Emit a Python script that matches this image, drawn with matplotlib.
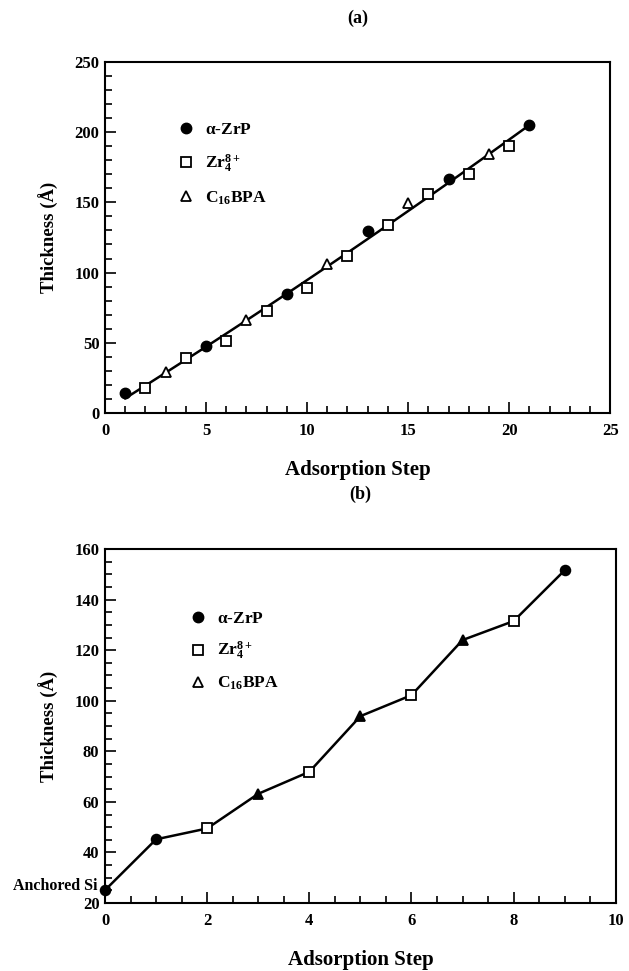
import numpy as np
import matplotlib
matplotlib.use("Agg")
import matplotlib.pyplot as plt
from matplotlib.ticker import MultipleLocator
from matplotlib.lines import Line2D

plt.rcParams['font.family'] = ['Liberation Serif', 'DejaVu Serif']
plt.rcParams['font.weight'] = 'bold'
plt.rcParams['mathtext.fontset'] = 'custom'
plt.rcParams['mathtext.rm'] = 'Liberation Serif:bold'
plt.rcParams['mathtext.it'] = 'Liberation Serif:bold'
plt.rcParams['mathtext.bf'] = 'Liberation Serif:bold'
plt.rcParams['mathtext.default'] = 'rm'

# Panel (a) data
a_zrp_x = [1, 5, 9, 13, 17, 21]
a_zrp_y = [14.2, 47.5, 85.0, 129.6, 166.9, 205.4]
a_zr4_x = [2, 4, 6, 8, 10, 12, 14, 16, 18, 20]
a_zr4_y = [18.0, 39.2, 51.0, 72.4, 89.3, 111.8, 133.7, 156.2, 170.5, 190.2]
a_c16_x = [3, 7, 11, 15, 19]
a_c16_y = [29.5, 66.5, 106.4, 149.6, 184.5]

# Panel (b) data
b_x = [0, 1, 2, 3, 4, 5, 6, 7, 8, 9]
b_y = [25.1, 45.2, 49.5, 63.2, 71.9, 93.9, 102.2, 124.0, 131.5, 151.6]
b_type = ['si', 'zrp', 'zr4', 'c16', 'zr4', 'c16', 'zr4', 'c16', 'zr4', 'zrp']

labels = [r'$\alpha$-ZrP', r'Zr$_4^{8+}$', r'C$_{16}$BPA']

fig = plt.figure(figsize=(6.29, 9.71), dpi=100)
axa = fig.add_axes([0.167, 0.5747, 0.803, 0.3615])
axb = fig.add_axes([0.167, 0.070, 0.812, 0.3646])

def style(ax):
    for s in ax.spines.values():
        s.set_linewidth(1.5)
    ax.tick_params(which='both', direction='in', top=False, right=False,
                   labelsize=12, width=1.2)
    ax.tick_params(axis='x', which='major', pad=7)
    ax.tick_params(axis='y', which='major', pad=4)
    ax.tick_params(which='major', length=8)
    ax.tick_params(which='minor', length=5)
    ax.set_ylabel('Thickness (Å)', fontsize=13.5, fontweight='bold', labelpad=11)
    ax.set_xlabel('Adsorption Step', fontsize=15, fontweight='bold', labelpad=15)
    for t in ax.get_xticklabels() + ax.get_yticklabels():
        t.set_fontweight('bold')

# ---- Panel (a)
allx = np.array(a_zrp_x + a_zr4_x + a_c16_x, dtype=float)
ally = np.array(a_zrp_y + a_zr4_y + a_c16_y, dtype=float)
coef = np.polyfit(allx, ally, 2)
xf = np.linspace(min(allx), max(allx), 100)
axa.plot(xf, np.polyval(coef, xf), color='black', lw=1.8, zorder=2)
axa.plot(a_zrp_x, a_zrp_y, 'o', color='black', ms=7.5, zorder=3, clip_on=False)
axa.plot(a_zr4_x, a_zr4_y, 's', mfc='white', mec='black', mew=1.3, ms=7, zorder=3)
axa.plot(a_c16_x, a_c16_y, '^', mfc='white', mec='black', mew=1.3, ms=7, zorder=3)
axa.set_xlim(0, 25)
axa.set_ylim(0, 250)
axa.xaxis.set_major_locator(MultipleLocator(5))
axa.xaxis.set_minor_locator(MultipleLocator(1))
axa.yaxis.set_major_locator(MultipleLocator(50))
axa.yaxis.set_minor_locator(MultipleLocator(10))
style(axa)
axa.set_title('(a)', fontsize=13, fontweight='bold', pad=28)

ha = [Line2D([], [], ls='none', marker='o', color='black', ms=7.5),
      Line2D([], [], ls='none', marker='s', mfc='white', mec='black', mew=1.3, ms=6.5),
      Line2D([], [], ls='none', marker='^', mfc='white', mec='black', mew=1.3, ms=6.5)]
axa.legend(ha, labels, loc='upper left', bbox_to_anchor=(0.113, 0.875), frameon=False,
           fontsize=12.5, labelspacing=0.85, handletextpad=0.55, handlelength=1.0)

# ---- Panel (b)
axb.plot(b_x, b_y, color='black', lw=1.8, zorder=2)
mk = {'si': ('o', 'black'), 'zrp': ('o', 'black'), 'zr4': ('s', 'white'), 'c16': ('^', 'black')}
for t in ['si', 'zrp', 'zr4', 'c16']:
    xs = [x for x, tt in zip(b_x, b_type) if tt == t]
    ys = [y for y, tt in zip(b_y, b_type) if tt == t]
    m, fc = mk[t]
    axb.plot(xs, ys, m, mfc=fc, mec='black', mew=1.3, ms=7, zorder=3, clip_on=False)
axb.set_xlim(0, 10)
axb.set_ylim(20, 160)
axb.xaxis.set_major_locator(MultipleLocator(2))
axb.xaxis.set_minor_locator(MultipleLocator(0.5))
axb.yaxis.set_major_locator(MultipleLocator(20))
axb.yaxis.set_minor_locator(MultipleLocator(5))
style(axb)
axb.set_title('(b)', fontsize=13, fontweight='bold', pad=36)
axb.text(-0.015, b_y[0] + 1.5, 'Anchored Si', transform=axb.get_yaxis_transform(),
         ha='right', va='center', fontsize=11.5, fontweight='bold')

hb = [Line2D([], [], ls='none', marker='o', color='black', ms=7.5),
      Line2D([], [], ls='none', marker='s', mfc='white', mec='black', mew=1.3, ms=6.5),
      Line2D([], [], ls='none', marker='^', mfc='white', mec='black', mew=1.3, ms=6.5)]
axb.legend(hb, labels, loc='upper left', bbox_to_anchor=(0.135, 0.87), frameon=False,
           fontsize=12.5, labelspacing=0.75, handletextpad=0.55, handlelength=1.0)

fig.savefig('out.png', dpi=100)
